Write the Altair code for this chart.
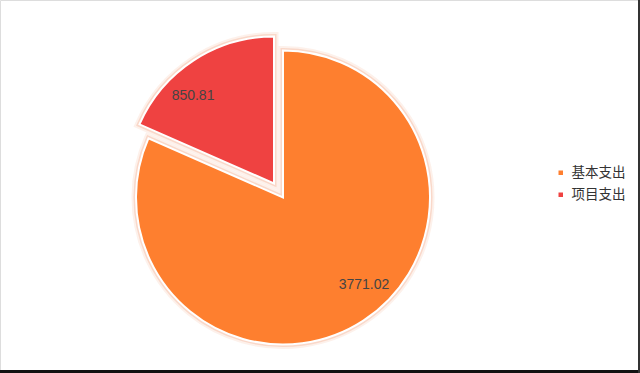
import altair as alt
import pandas as pd

categories = ["基本支出", "项目支出"]
values = [3771.02, 850.81]
labels = ["3771.02", "850.81"]
colors = ["#FE7F2F", "#EF4241"]

df = pd.DataFrame({"category": categories, "value": values, "label": labels,
                   "order": list(range(len(categories)))})
total = sum(values)

theta_scale = alt.Scale(domain=[0, total], nice=False, zero=True)
color_scale = alt.Scale(domain=categories, range=colors)

CX, CY = 283, 197.5
R = 147
EX, EY = -9, -14

base = (alt.Chart(df)
        .transform_window(cum="sum(value)", sort=[alt.SortField("order")], frame=[None, 0])
        .transform_calculate(start="datum.cum - datum.value",
                             mid="datum.cum - datum.value / 2"))

def slice_layers(cat, dx, dy, legend):
    b = base.transform_filter(alt.datum.category == cat)
    enc = dict(
        theta=alt.Theta("start:Q", scale=theta_scale),
        theta2="cum:Q",
        x=alt.value(CX), y=alt.value(CY),
    )
    glow = b.mark_arc(outerRadius=R, stroke="#F6B79C", strokeWidth=9, strokeOpacity=0.2,
                      fillOpacity=0, xOffset=dx, yOffset=dy).encode(**enc)
    glow2 = b.mark_arc(outerRadius=R, stroke="#F4A98A", strokeWidth=5, strokeOpacity=0.35,
                       fillOpacity=0, xOffset=dx, yOffset=dy).encode(**enc)
    arc = b.mark_arc(outerRadius=R, stroke="white", strokeWidth=2,
                     xOffset=dx, yOffset=dy).encode(
        color=alt.Color("category:N", scale=color_scale,
                        legend=alt.Legend(title=None, orient="none", legendX=554, legendY=166,
                                          symbolType="square", symbolSize=36,
                                          labelFontSize=13.5, labelColor="#333",
                                          labelFont="Noto Sans CJK SC", rowPadding=7,
                                          labelOffset=4) if legend else None),
        **enc)
    txt = b.mark_text(radius=119, fontSize=14, font="Liberation Sans", color="#444",
                      thetaOffset=-0.17, xOffset=dx, yOffset=dy).encode(
        theta=alt.Theta("mid:Q", scale=theta_scale),
        x=alt.value(CX), y=alt.value(CY),
        text="label:N")
    return [glow, glow2, arc, txt]

layers = slice_layers("基本支出", 0, 0, True) + slice_layers("项目支出", EX, EY, False)

bottom = alt.Chart(df).mark_rule(color="#111", strokeWidth=3).encode(
    x=alt.value(0), x2=alt.value(640), y=alt.value(371.5))
right = alt.Chart(df).mark_rule(color="#333", strokeWidth=2).encode(
    x=alt.value(639), y=alt.value(0), y2=alt.value(373))

chart = (alt.layer(*layers, bottom, right)
         .properties(width=640, height=373, padding=0,
                     autosize=alt.AutoSizeParams(type="none"))
         .configure_view(stroke="#444", strokeWidth=2)
         .configure(background="white"))

chart.save("out.html", embed_options={"renderer": "svg", "actions": False})
